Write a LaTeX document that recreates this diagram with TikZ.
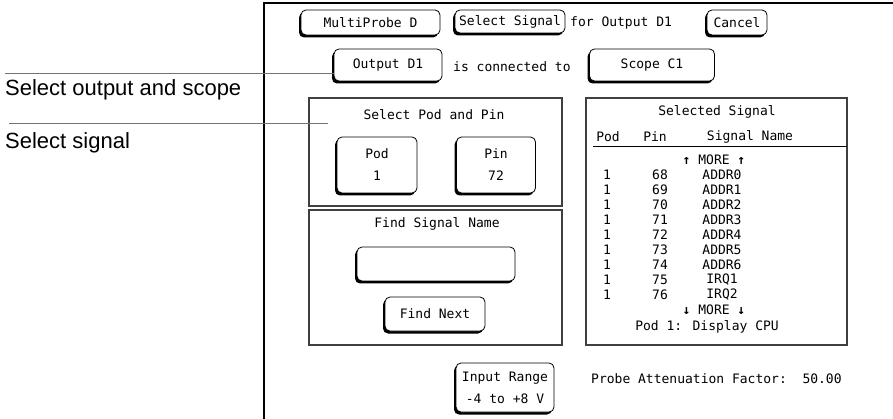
\documentclass[tikz,border=0pt]{standalone}
\usepackage{fontspec}
\setmainfont{Liberation Sans}
\newfontfamily\scrfont{DejaVu Sans Mono}
\usetikzlibrary{shadows}
\begin{document}
\begin{tikzpicture}[x=1pt,y=-1pt,
  btn/.style={draw,line width=0.8pt,fill=white,rounded corners=5pt,inner sep=0pt,align=center,
    font=\scrfont\fontsize{13}{22}\selectfont,
    drop shadow={shadow xshift=-2pt,shadow yshift=-2.5pt,fill=black,opacity=1}},
  panel/.style={draw=black!75,line width=1.2pt},
  scr/.style={font=\scrfont\fontsize{13}{15}\selectfont,inner sep=0pt},
  note/.style={font=\fontsize{22}{26}\selectfont,inner sep=0pt,anchor=base west},
  lead/.style={draw=black!55,line width=0.8pt}]
\useasboundingbox (0,0) rectangle (893,419);
% screen frame
\draw[line width=1.2pt] (893,3) -- (264,3) -- (264,419);
% top row
\node[btn,minimum width=139pt,minimum height=25pt] (mp) at (370.5,22.5) {MultiProbe D};
\node[btn,minimum width=110pt,minimum height=23pt] (ss) at (510,21.5) {Select Signal};
\node[scr,anchor=west] (for) at (570,23) {for Output D1};
\node[btn,minimum width=60pt,minimum height=25pt] (cancel) at (737,22.5) {Cancel};
% second row
\node[btn,minimum width=108pt,minimum height=32pt] (out) at (388,65) {Output D1};
\node[scr,anchor=west] (conn) at (453,67) {is connected to};
\node[btn,minimum width=125pt,minimum height=32pt] (scope) at (652,65) {Scope C1};
% panels
\draw[panel] (309,98) rectangle (562,206);
\node[scr] (podpin) at (434,115) {Select Pod and Pin};
\node[btn,minimum width=80pt,minimum height=56pt] (pod) at (377,165) {Pod\\1};
\node[btn,minimum width=79pt,minimum height=56pt] (pin) at (496,165) {Pin\\72};
\draw[panel] (309,210) rectangle (562,345);
\node[scr] (findt) at (437,224) {Find Signal Name};
\node[btn,minimum width=158pt,minimum height=34pt] (field) at (436,264) {};
\node[btn,minimum width=100pt,minimum height=34pt] (next) at (435,314) {Find Next};
\draw[panel] (586,98) rectangle (847,345);
\node[scr] (selt) at (717,112) {Selected Signal};
\node[scr] (hpod) at (608,137) {Pod};
\node[scr] (hpin) at (655,137) {Pin};
\node[scr] (hname) at (750,137) {Signal Name};
\coordinate (hl) at (593,146);
\coordinate (hr) at (847,146);
\draw[line width=0.8pt] (hl) -- (hr);
\node[scr] (moreup) at (714,160) {\textbf{↑} MORE \textbf{↑}};
\foreach \p/\n [count=\i from 0] in {68/ADDR0,69/ADDR1,70/ADDR2,71/ADDR3,72/ADDR4,73/ADDR5,74/ADDR6,75/IRQ1,76/IRQ2}{
  \node[scr] (rpod\i) at (607,175+15*\i) {1};
  \node[scr] (rpin\i) at (660,175+15*\i) {\p};
  \node[scr] (rname\i) at (722,175+15*\i) {\n};
}
\node[scr] (moredn) at (714,310) {\textbf{↓} MORE \textbf{↓}};
\node[scr] (podcpu) at (707,327) {Pod 1: Display CPU};
% bottom
\node[btn,minimum width=98pt,minimum height=49pt] (range) at (505,387.5) {Input Range\\-4 to +8 V};
\node[scr,anchor=west] (atten) at (591,379) {Probe Attenuation Factor:\ \ 50.00};
% annotations
\node[note] (n1) at (5,96) {Select output and scope};
\node[note] (n2) at (5,149) {Select signal};
\coordinate (l1) at (5,73);
\coordinate (l2s) at (9,123);
\coordinate (l2e) at (328,123);
\draw[lead] (l1) -- (out.west|-l1);
\draw[lead] (l2s) -- (l2e);
\end{tikzpicture}
\end{document}
